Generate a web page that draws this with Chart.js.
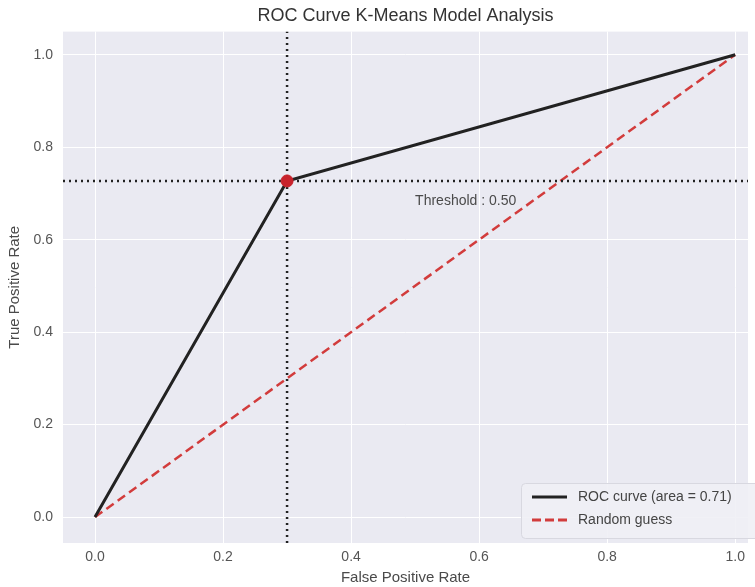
<!DOCTYPE html>
<html lang="en">
<head>
    <meta charset="UTF-8">
    <title>ROC Curve K-Means Model Analysis</title>
    <script src="https://cdn.jsdelivr.net/npm/chart.js"></script>
    <style>
        html, body { margin: 0; padding: 0; background: #fff; }
        #wrap { width: 755px; height: 587px; }
    </style>
</head>
<body>
    <div id="wrap">
        <canvas id="myChart" width="755" height="587"></canvas>
    </div>
    <script>
    // ROC points (false positive rate / true positive rate)
    const fpr = [0.0, 0.3, 1.0];
    const tpr = [0.0, 0.727, 1.0];
    const randomX = [0.0, 1.0];
    const randomY = [0.0, 1.0];
    const rocArea = 0.71;
    const thresholdValue = 0.50;
    const thresholdFpr = 0.3;
    const thresholdTpr = 0.727;
    const xTicks = [0.0, 0.2, 0.4, 0.6, 0.8, 1.0];
    const yTicks = [0.0, 0.2, 0.4, 0.6, 0.8, 1.0];

    const xMin = -0.05, xMax = 1.02;
    const yMin = -0.056, yMax = 1.05;
    const fontFamily = '"Liberation Sans", Arial, sans-serif';

    const toPoints = (xs, ys) => xs.map((x, i) => ({ x: x, y: ys[i] }));

    // seaborn style background behind the plot
    const plotBackground = {
        id: 'plotBackground',
        beforeDraw(chart) {
            const { ctx, chartArea: a } = chart;
            ctx.save();
            ctx.fillStyle = '#eaeaf2';
            ctx.fillRect(a.left, a.top, a.right - a.left, a.bottom - a.top);
            ctx.restore();
        }
    };

    // threshold note and the legend box in the lower right corner
    const annotations = {
        id: 'annotations',
        afterDraw(chart) {
            const { ctx, scales } = chart;
            ctx.save();
            ctx.font = '14px ' + fontFamily;
            ctx.fillStyle = '#4a4a4a';
            ctx.textAlign = 'left';
            ctx.textBaseline = 'middle';
            ctx.fillText('Threshold : ' + thresholdValue.toFixed(2),
                scales.x.getPixelForValue(0.5), scales.y.getPixelForValue(0.684));

            // legend
            const bx = 521, by = 483, bw = 245, bh = 55;
            ctx.fillStyle = 'rgba(240,240,245,0.9)';
            ctx.strokeStyle = '#d8d8e0';
            ctx.lineWidth = 1;
            ctx.beginPath();
            ctx.roundRect(bx + 0.5, by + 0.5, bw, bh, 4);
            ctx.fill();
            ctx.stroke();

            const rows = [
                { label: 'ROC curve (area = ' + rocArea.toFixed(2) + ')', color: '#222', dash: [] },
                { label: 'Random guess', color: '#d23c3c', dash: [9, 4] }
            ];
            rows.forEach((r, i) => {
                const y = by + 14 + i * 23;
                ctx.strokeStyle = r.color;
                ctx.lineWidth = 3;
                ctx.setLineDash(r.dash);
                ctx.beginPath();
                ctx.moveTo(bx + 11, y);
                ctx.lineTo(bx + 46, y);
                ctx.stroke();
                ctx.setLineDash([]);
                ctx.fillStyle = '#444';
                ctx.font = '14px ' + fontFamily;
                ctx.fillText(r.label, bx + 57, y);
            });
            ctx.restore();
        }
    };

    const ctx = document.getElementById('myChart').getContext('2d');
    const myChart = new Chart(ctx, {
        type: 'scatter',
        data: {
            datasets: [
                {
                    label: 'Threshold point',
                    data: [{ x: thresholdFpr, y: thresholdTpr }],
                    pointRadius: 6,
                    pointBackgroundColor: '#c8232c',
                    pointBorderColor: '#c8232c',
                    showLine: false,
                    order: 0
                },
                {
                    label: 'ROC curve',
                    data: toPoints(fpr, tpr),
                    showLine: true,
                    borderColor: '#222',
                    borderWidth: 3,
                    pointRadius: 0,
                    order: 1
                },
                {
                    label: 'Threshold vertical',
                    data: [{ x: thresholdFpr, y: yMin }, { x: thresholdFpr, y: yMax }],
                    showLine: true,
                    borderColor: '#222',
                    borderWidth: 2.5,
                    borderDash: [2, 4],
                    pointRadius: 0,
                    order: 2
                },
                {
                    label: 'Threshold horizontal',
                    data: [{ x: xMin, y: thresholdTpr }, { x: xMax, y: thresholdTpr }],
                    showLine: true,
                    borderColor: '#222',
                    borderWidth: 2.5,
                    borderDash: [2, 4],
                    pointRadius: 0,
                    order: 2
                },
                {
                    label: 'Random guess',
                    data: toPoints(randomX, randomY),
                    showLine: true,
                    borderColor: '#d23c3c',
                    borderWidth: 2.5,
                    borderDash: [9, 5],
                    pointRadius: 0,
                    order: 3
                }
            ]
        },
        options: {
            responsive: false,
            animation: false,
            layout: { padding: 0 },
            scales: {
                x: {
                    type: 'linear',
                    min: xMin,
                    max: xMax,
                    afterBuildTicks: s => { s.ticks = xTicks.map(v => ({ value: v })); },
                    afterFit: s => { s.height = 44; },
                    grid: { color: '#ffffff', lineWidth: 1, drawTicks: false },
                    border: { display: false },
                    ticks: {
                        padding: 6,
                        color: '#555',
                        font: { family: fontFamily, size: 14 },
                        callback: v => v.toFixed(1)
                    },
                    title: {
                        display: true,
                        text: 'False Positive Rate',
                        color: '#4a4a4a',
                        font: { family: fontFamily, size: 15 },
                        padding: { top: 0, bottom: 0 }
                    }
                },
                y: {
                    type: 'linear',
                    min: yMin,
                    max: yMax,
                    afterBuildTicks: s => { s.ticks = yTicks.map(v => ({ value: v })); },
                    afterFit: s => { s.width = 63; },
                    grid: { color: '#ffffff', lineWidth: 1, drawTicks: false },
                    border: { display: false },
                    ticks: {
                        padding: 10,
                        color: '#555',
                        font: { family: fontFamily, size: 14 },
                        callback: v => v.toFixed(1)
                    },
                    title: {
                        display: true,
                        text: 'True Positive Rate',
                        color: '#4a4a4a',
                        font: { family: fontFamily, size: 15 },
                        padding: { top: 6, bottom: 0 }
                    }
                }
            },
            plugins: {
                legend: { display: false },
                tooltip: { enabled: false },
                title: {
                    display: true,
                    fullSize: false,
                    text: 'ROC Curve K-Means Model Analysis',
                    color: '#333',
                    font: { family: fontFamily, size: 18, weight: 'normal' },
                    padding: { top: 5, bottom: 5 }
                }
            }
        },
        plugins: [plotBackground, annotations]
    });
    </script>
</body>
</html>
